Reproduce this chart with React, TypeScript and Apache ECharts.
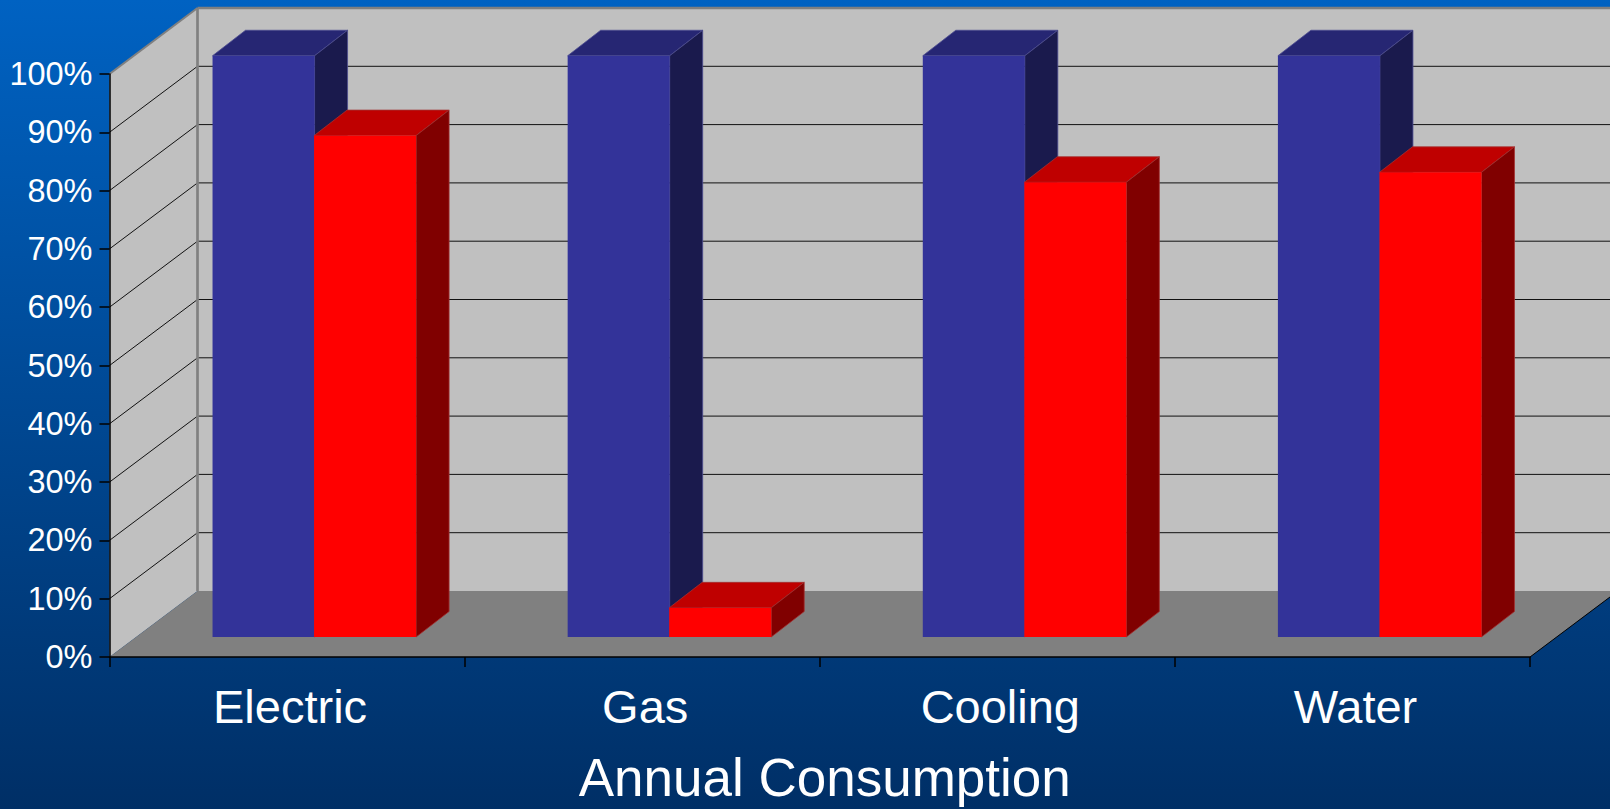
import React, { useEffect, useRef } from "react";
import * as echarts from "echarts";

const categories = ["Electric", "Gas", "Cooling", "Water"];
const blueValues = [99.7, 99.7, 99.7, 99.7];
const redValues = [86, 5, 78, 79.7];
const yTicks = [0, 10, 20, 30, 40, 50, 60, 70, 80, 90, 100];
const xTitle = "Annual Consumption";

const WALL_DX = 88;
const WALL_DY = -66;
const BAR_OFFSET_X = 27.5;
const BAR_OFFSET_Y = -20;
const BAR_DX = 33;
const BAR_DY = -25.5;
const BAR_WIDTH_RATIO = 0.2873;

const FONT = '"Liberation Sans", Arial, sans-serif';

function barRenderer(side: number, front: string, top: string, right: string, edge: string) {
  return (params: any, api: any) => {
    const cat = api.value(0);
    const val = api.value(1);
    const c = api.coord([cat, val]);
    const b = api.coord([cat, 0]);
    const w = api.size([1, 0])[0] * BAR_WIDTH_RATIO;
    const cx = c[0] + BAR_OFFSET_X;
    const x0 = side < 0 ? cx - w : cx - 0.5;
    const x1 = x0 + w;
    const yT = c[1] + BAR_OFFSET_Y;
    const yB = b[1] + BAR_OFFSET_Y;
    return {
      type: "group",
      children: [
        {
          type: "polygon",
          shape: { points: [[x0, yT], [x1, yT], [x1 + BAR_DX, yT + BAR_DY], [x0 + BAR_DX, yT + BAR_DY]] },
          style: { fill: top, stroke: edge, lineWidth: 0.8 },
        },
        {
          type: "polygon",
          shape: { points: [[x1, yT], [x1 + BAR_DX, yT + BAR_DY], [x1 + BAR_DX, yB + BAR_DY], [x1, yB]] },
          style: { fill: right, stroke: edge, lineWidth: 0.8 },
        },
        {
          type: "rect",
          shape: { x: x0, y: yT, width: w, height: yB - yT },
          style: { fill: front },
        },
      ],
    };
  };
}

export default function App() {
  const ref = useRef<HTMLDivElement>(null);
  useEffect(() => {
    const chart = echarts.init(ref.current!, undefined, { renderer: "svg" });
    chart.setOption({
      animation: false,
      backgroundColor: new echarts.graphic.LinearGradient(0, 0, 0, 1, [
        { offset: 0, color: "#0062c2" },
        { offset: 1, color: "#002f66" },
      ]),
      grid: { left: 109.5, top: 74, width: 1420.5, height: 584 },
      xAxis: {
        type: "category",
        data: categories,
        z: 5,
        name: xTitle,
        nameLocation: "middle",
        nameGap: 94,
        nameTextStyle: { color: "#fff", fontFamily: FONT, fontSize: 53, padding: [0, 0, 0, 10] },
        axisLine: { lineStyle: { color: "#000", width: 1.5 } },
        axisTick: { show: true, alignWithLabel: false, length: 10, lineStyle: { color: "#000", width: 1.5 } },
        axisLabel: { color: "#fff", fontFamily: FONT, fontSize: 47, margin: 26, padding: [0, 0, 0, 6] },
      },
      yAxis: {
        type: "value",
        min: 0,
        max: 100,
        interval: 10,
        z: 5,
        splitLine: { show: false },
        axisLine: { show: true, lineStyle: { color: "#000", width: 1.5 } },
        axisTick: { show: true, length: 10, lineStyle: { color: "#000", width: 1.5 } },
        axisLabel: { color: "#fff", fontFamily: FONT, fontSize: 32.5, margin: 17, formatter: "{value}%" },
      },
      series: [
        {
          type: "custom",
          name: "walls",
          silent: true,
          data: [0],
          encode: { x: -1, y: -1 },
          renderItem: (params: any) => {
            const s = params.coordSys;
            const L = s.x;
            const T = s.y;
            const R = s.x + s.width;
            const B = s.y + s.height;
            return {
              type: "group",
              children: [
                {
                  type: "rect",
                  shape: { x: L + WALL_DX, y: T + WALL_DY, width: s.width + 200, height: s.height },
                  style: { fill: "#c0c0c0" },
                },
                {
                  type: "polygon",
                  shape: { points: [[L, B], [L + WALL_DX, B + WALL_DY], [L + WALL_DX, T + WALL_DY], [L, T]] },
                  style: { fill: "#c0c0c0" },
                },
                {
                  type: "polygon",
                  shape: { points: [[L, B], [R, B], [R + WALL_DX, B + WALL_DY], [L + WALL_DX, B + WALL_DY]] },
                  style: { fill: "#808080" },
                },
              ],
            };
          },
        },
        {
          type: "custom",
          name: "grid",
          silent: true,
          data: yTicks.map((v) => [v]),
          encode: { y: 0 },
          renderItem: (params: any, api: any) => {
            const s = params.coordSys;
            const v = api.value(0);
            const y = api.coord([0, v])[1];
            const L = s.x;
            if (v === 0) {
              return {
                type: "line",
                shape: { x1: L + s.width, y1: y, x2: L + s.width + WALL_DX, y2: y + WALL_DY },
                style: { stroke: "#000", lineWidth: 1 },
              };
            }
            const isTop = v === 100;
            const stroke = isTop ? "#808080" : "#111";
            const lw = isTop ? 2.5 : 1;
            return {
              type: "group",
              children: [
                {
                  type: "line",
                  shape: { x1: L, y1: y, x2: L + WALL_DX, y2: y + WALL_DY },
                  style: { stroke, lineWidth: isTop ? 2 : 1 },
                },
                {
                  type: "line",
                  shape: { x1: L + WALL_DX, y1: y + WALL_DY, x2: L + s.width + 200, y2: y + WALL_DY },
                  style: { stroke, lineWidth: lw },
                },
              ].concat(
                isTop
                  ? [
                      {
                        type: "line",
                        shape: { x1: L + WALL_DX, y1: y + WALL_DY, x2: L + WALL_DX, y2: y + WALL_DY + s.height },
                        style: { stroke, lineWidth: 2.7 },
                      },
                    ]
                  : []
              ),
            };
          },
        },
        {
          type: "custom",
          name: "Series 1",
          data: blueValues.map((v, i) => [i, v]),
          encode: { x: 0, y: 1 },
          renderItem: barRenderer(-1, "#333399", "#262673", "#1a1a4d", "#4d4d8f"),
        },
        {
          type: "custom",
          name: "Series 2",
          data: redValues.map((v, i) => [i, v]),
          encode: { x: 0, y: 1 },
          renderItem: barRenderer(1, "#ff0000", "#bf0000", "#800000", "#a33030"),
        },
      ],
    });
    return () => chart.dispose();
  }, []);
  return <div ref={ref} style={{ position: "fixed", left: 0, top: 0, width: 1610, height: 809 }} />;
}
